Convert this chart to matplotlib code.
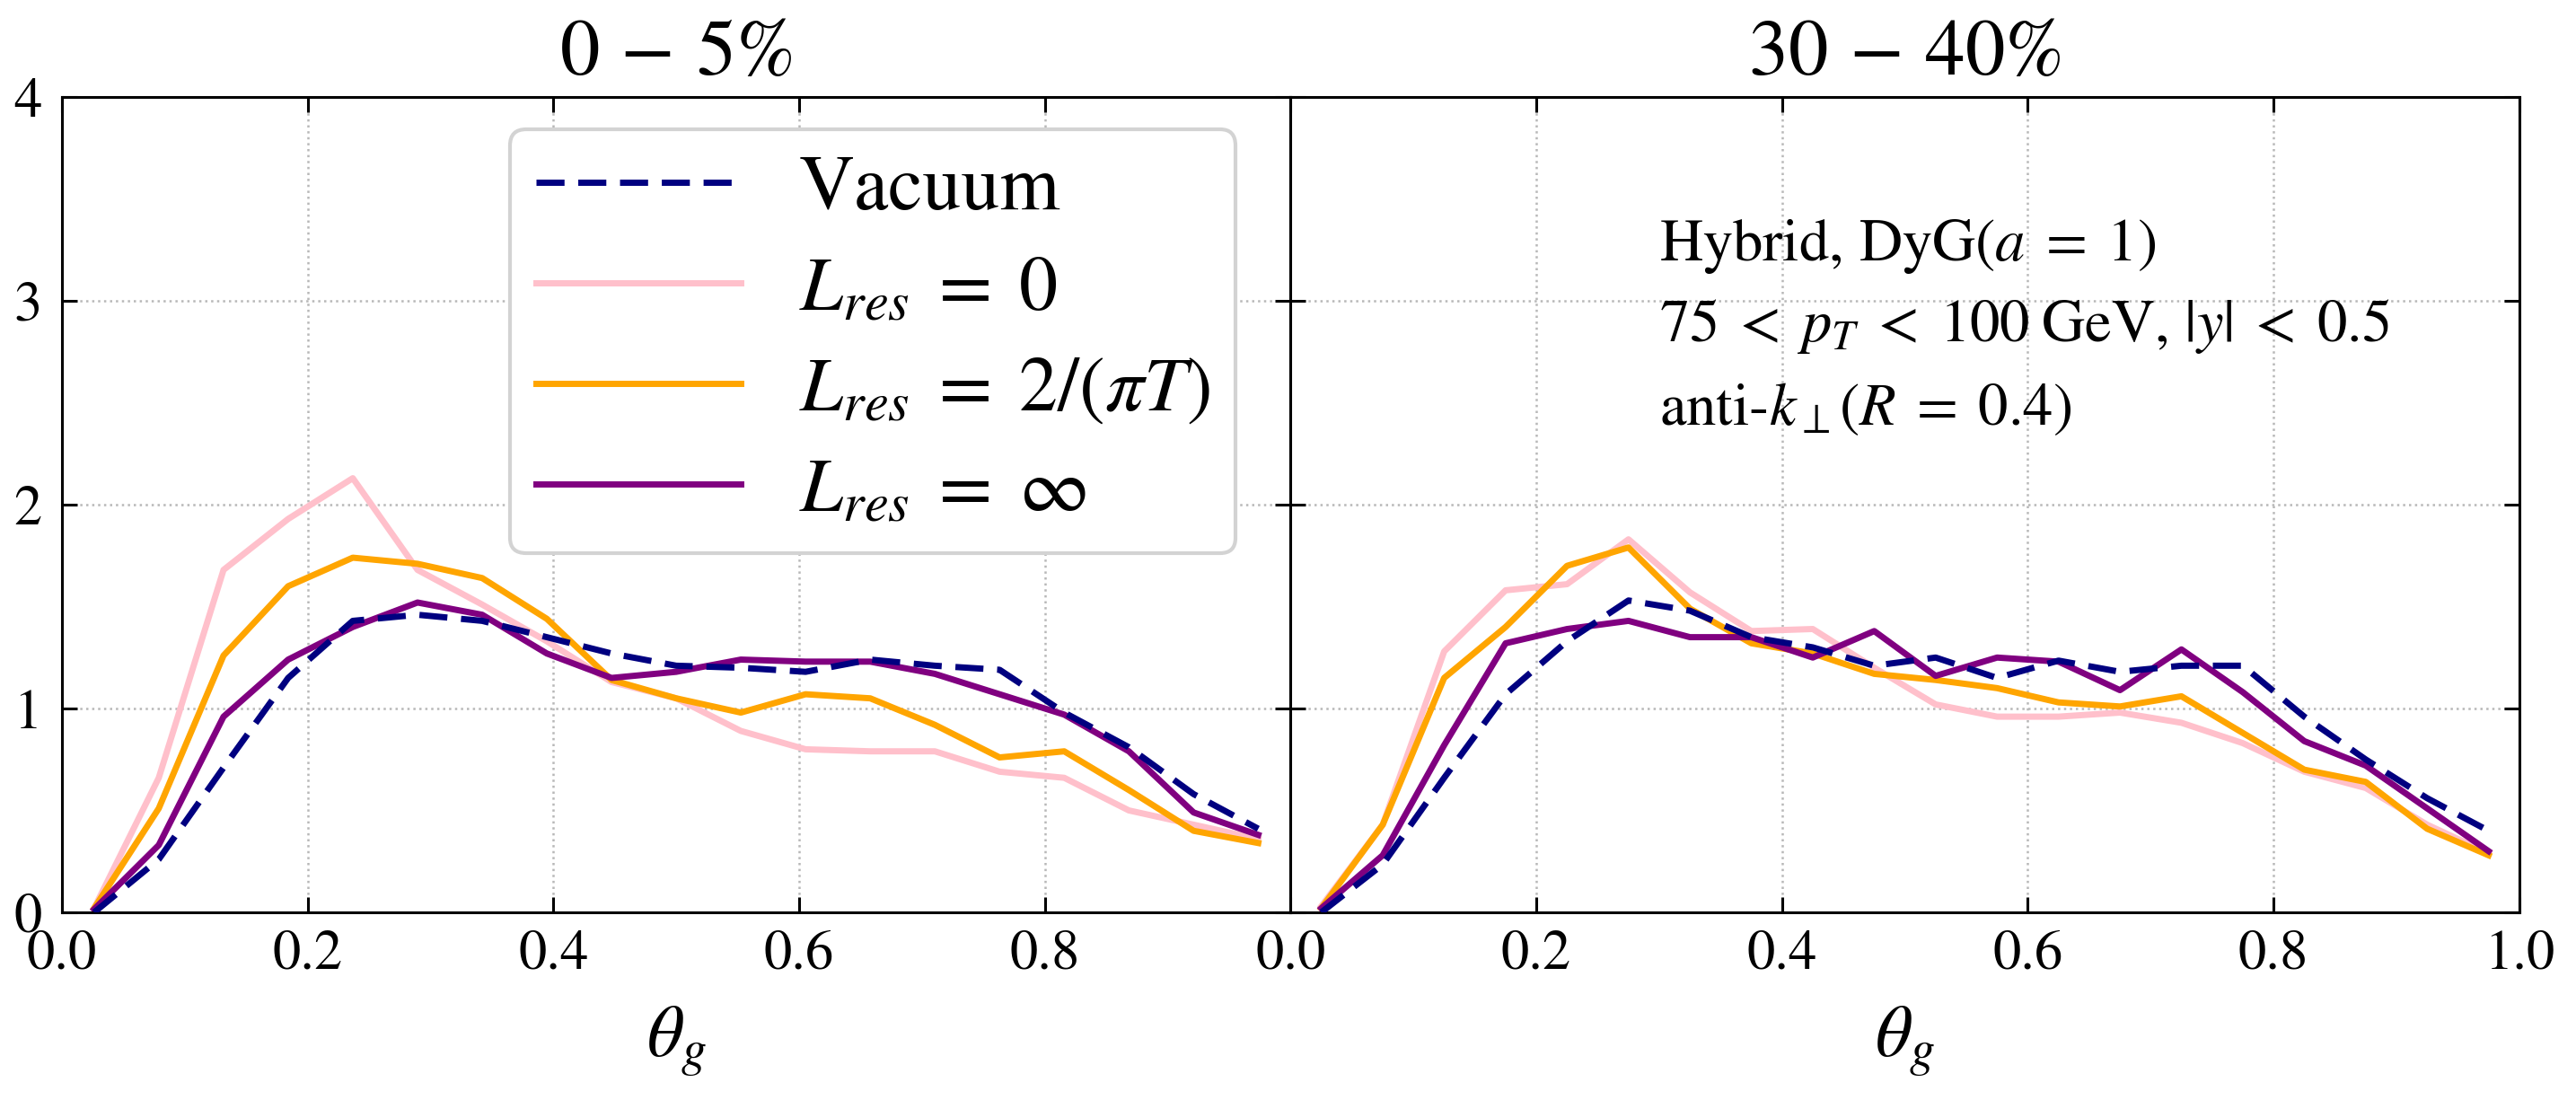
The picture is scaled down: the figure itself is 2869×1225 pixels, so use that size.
import matplotlib
matplotlib.use("Agg")
import matplotlib.pyplot as plt

plt.rcParams["font.family"] = ["STIXGeneral", "DejaVu Serif"]
plt.rcParams["mathtext.fontset"] = "stix"

# theta_g bin centres
theta_central = [0.0263, 0.0789, 0.1316, 0.1842, 0.2368, 0.2895, 0.3421, 0.3947,
                 0.4474, 0.5000, 0.5526, 0.6053, 0.6579, 0.7105, 0.7632, 0.8158,
                 0.8684, 0.9211, 0.9737]
theta_mid = [0.025, 0.075, 0.125, 0.175, 0.225, 0.275, 0.325, 0.375, 0.425, 0.475,
             0.525, 0.575, 0.625, 0.675, 0.725, 0.775, 0.825, 0.875, 0.925, 0.975]

# 0-5% centrality
vac_central = [0.00, 0.26, 0.71, 1.15, 1.43, 1.46, 1.43, 1.35, 1.27, 1.21,
               1.20, 1.18, 1.24, 1.21, 1.19, 0.98, 0.81, 0.58, 0.41]
l0_central = [0.02, 0.66, 1.68, 1.93, 2.13, 1.68, 1.51, 1.33, 1.13, 1.05,
              0.89, 0.80, 0.79, 0.79, 0.69, 0.66, 0.50, 0.43, 0.36]
l2_central = [0.02, 0.51, 1.26, 1.60, 1.74, 1.71, 1.64, 1.44, 1.14, 1.05,
              0.98, 1.07, 1.05, 0.92, 0.76, 0.79, 0.60, 0.40, 0.34]
linf_central = [0.015, 0.33, 0.96, 1.24, 1.40, 1.52, 1.46, 1.27, 1.15, 1.18,
                1.24, 1.23, 1.23, 1.17, 1.07, 0.97, 0.79, 0.49, 0.38]

# 30-40% centrality
vac_mid = [0.00, 0.235, 0.66, 1.07, 1.33, 1.53, 1.48, 1.35, 1.30, 1.21,
           1.25, 1.15, 1.235, 1.18, 1.21, 1.21, 0.96, 0.75, 0.56, 0.40]
l0_mid = [0.03, 0.43, 1.28, 1.58, 1.61, 1.83, 1.57, 1.38, 1.39, 1.20,
          1.02, 0.96, 0.96, 0.98, 0.93, 0.83, 0.69, 0.61, 0.43, 0.29]
l2_mid = [0.02, 0.43, 1.15, 1.40, 1.70, 1.79, 1.49, 1.32, 1.27, 1.17,
          1.14, 1.10, 1.03, 1.01, 1.06, 0.88, 0.70, 0.64, 0.41, 0.28]
linf_mid = [0.02, 0.28, 0.82, 1.32, 1.39, 1.43, 1.35, 1.35, 1.25, 1.38,
            1.16, 1.25, 1.23, 1.09, 1.29, 1.08, 0.84, 0.72, 0.51, 0.30]

titles = [r"$0\,-\,5\%$", r"$30\,-\,40\%$"]
labels = ["Vacuum", r"$L_{res}\;=\;0$", r"$L_{res}\;=\;2/(\pi T)$", r"$L_{res}\;=\;\infty$"]
colors = ["navy", "pink", "orange", "purple"]

panels = [
    (theta_central, [vac_central, l0_central, l2_central, linf_central]),
    (theta_mid, [vac_mid, l0_mid, l2_mid, linf_mid]),
]

fig, axes = plt.subplots(1, 2, figsize=(28.69, 12.25), dpi=100, sharey=True)
fig.subplots_adjust(left=0.024, right=0.978, top=0.9118, bottom=0.1706, wspace=0)

lw = 5.0
for k, (ax, (xs, series)) in enumerate(zip(axes, panels)):
    for j, (ys, c, lab) in enumerate(zip(series, colors, labels)):
        if j == 0:
            ax.plot(xs, ys, color=c, lw=lw, linestyle=(0, (4.5, 2.2)), label=lab, zorder=3)
        else:
            ax.plot(xs, ys, color=c, lw=lw, label=lab, zorder=2 + j * 0.1)
    ax.set_xlim(0, 1)
    ax.set_ylim(0, 4)
    ax.set_yticks([0, 1, 2, 3, 4])
    if k == 0:
        ax.set_xticks([0, 0.2, 0.4, 0.6, 0.8])
    else:
        ax.set_xticks([0, 0.2, 0.4, 0.6, 0.8, 1.0])
    ax.set_xticklabels([f"{t:.1f}" for t in ax.get_xticks()])
    ax.grid(True, linestyle=":", color="#b8b8b8", lw=1.8)
    ax.tick_params(direction="in", top=True, right=True, length=12, width=2.2,
                   labelsize=45)
    ax.tick_params(axis="x", pad=14)
    ax.tick_params(axis="y", pad=16)
    for s in ax.spines.values():
        s.set_linewidth(2.2)
    ax.set_title(titles[k], fontsize=64, pad=18)
    ax.set_xlabel(r"$\theta_g$", fontsize=58, labelpad=18)

axes[1].tick_params(labelleft=False)

leg = axes[0].legend(loc="upper left", bbox_to_anchor=(0.365, 0.96), borderaxespad=0,
                     fontsize=62, handlelength=2.65, handletextpad=0.75,
                     labelspacing=0.38, borderpad=0.33, fancybox=True,
                     framealpha=1, edgecolor="#d3d3d3")
leg.get_frame().set_linewidth(3)

ann = axes[1]
ann_size = 48
ann.text(0.30, 0.80, r"Hybrid, DyG$(a\;=\;1)$", transform=ann.transAxes,
         fontsize=ann_size, va="baseline", ha="left")
ann.text(0.30, 0.70, r"$75\;<\;p_T\;<\;100\;$GeV, $|y|\;<\;0.5$", transform=ann.transAxes,
         fontsize=ann_size, va="baseline", ha="left")
ann.text(0.30, 0.598, r"anti-$k_{\perp}(R\;=\;0.4)$", transform=ann.transAxes,
         fontsize=ann_size, va="baseline", ha="left")

fig.savefig("out.png", dpi=100)
